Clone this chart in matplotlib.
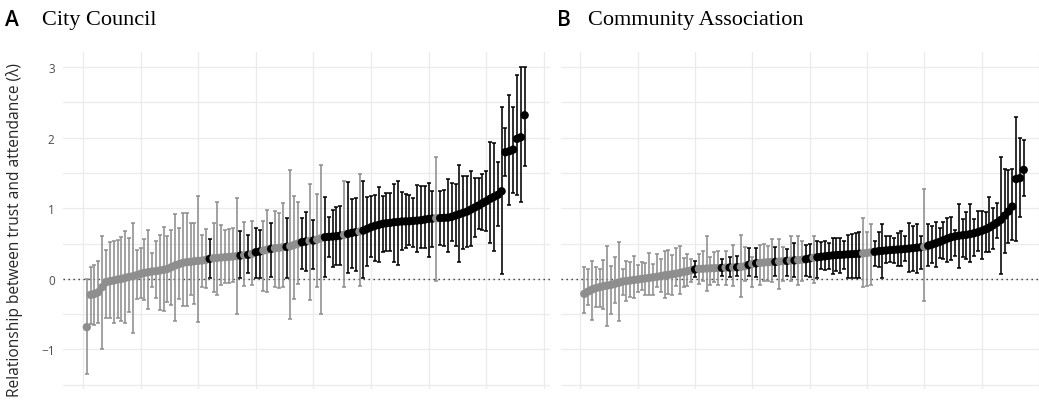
import numpy as np
import matplotlib
matplotlib.use("Agg")
import matplotlib.pyplot as plt

# City Council: sorted estimates with 95% intervals
council_est = [
    -0.684, -0.226, -0.212, -0.188, -0.117, -0.047, -0.033, -0.023, -0.009, 0.000,
    0.015, 0.029, 0.038, 0.053, 0.071, 0.086, 0.095, 0.105, 0.109, 0.119,
    0.128, 0.142, 0.166, 0.190, 0.208, 0.227, 0.237, 0.241, 0.251, 0.256,
    0.260, 0.270, 0.284, 0.293, 0.298, 0.303, 0.307, 0.312, 0.317, 0.322,
    0.331, 0.336, 0.341, 0.355, 0.378, 0.388, 0.402, 0.416, 0.426, 0.435,
    0.440, 0.449, 0.454, 0.463, 0.482, 0.501, 0.520, 0.529, 0.539, 0.544,
    0.558, 0.577, 0.591, 0.596, 0.600, 0.605, 0.614, 0.624, 0.638, 0.652,
    0.662, 0.671, 0.685, 0.709, 0.732, 0.751, 0.765, 0.780, 0.789, 0.794,
    0.803, 0.808, 0.813, 0.815, 0.817, 0.822, 0.827, 0.831, 0.841, 0.850,
    0.855, 0.860, 0.862, 0.865, 0.868, 0.879, 0.898, 0.917, 0.936, 0.954,
    0.983, 1.011, 1.039, 1.072, 1.101, 1.134, 1.162, 1.190, 1.242, 1.795,
    1.809, 1.832, 1.984, 2.007, 2.319,
]
council_lo = [
    -1.345, -0.637, -0.651, -0.618, -0.991, -0.557, -0.557, -0.618, -0.557, -0.590,
    -0.618, -0.472, -0.769, -0.287, -0.273, -0.302, -0.424, -0.117, -0.269, -0.439,
    -0.448, -0.330, -0.368, -0.599, -0.283, -0.377, -0.377, -0.235, -0.354, -0.613,
    -0.117, -0.132, 0.010, -0.188, -0.235, -0.084, -0.061, -0.061, -0.037, -0.495,
    0.010, -0.094, 0.081, -0.080, 0.010, 0.010, -0.165, -0.188, 0.024, -0.117,
    -0.122, -0.117, 0.010, -0.566, -0.283, -0.070, 0.142, 0.109, -0.292, 0.142,
    -0.117, -0.495, 0.024, 0.307, 0.166, 0.199, 0.199, -0.117, 0.081, 0.152,
    0.109, -0.094, 0.010, 0.189, 0.307, 0.260, 0.237, 0.378, 0.397, 0.397,
    0.237, 0.199, 0.411, 0.444, 0.482, 0.449, 0.378, 0.435, 0.435, 0.307,
    0.449, -0.023, 0.487, 0.463, 0.378, 0.534, 0.473, 0.237, 0.426, 0.449,
    0.473, 0.591, 0.709, 0.690, 0.685, 0.511, 0.402, 0.756, 0.071, 1.464,
    1.053, 1.219, 1.190, 1.090, 1.596,
]
council_hi = [
    0.000, 0.175, 0.199, 0.260, 0.614, 0.411, 0.520, 0.539, 0.548, 0.596,
    0.676, 0.581, 0.798, 0.407, 0.435, 0.562, 0.690, 0.364, 0.534, 0.629,
    0.742, 0.605, 0.699, 0.921, 0.728, 0.935, 0.935, 0.794, 0.789, 1.171,
    0.624, 0.704, 0.567, 0.798, 1.087, 0.770, 0.690, 0.704, 0.718, 1.143,
    0.676, 0.803, 0.624, 0.827, 0.718, 0.695, 0.827, 0.983, 0.789, 0.969,
    0.935, 1.082, 0.865, 1.544, 1.171, 1.087, 0.860, 0.954, 1.341, 0.836,
    1.209, 1.615, 1.167, 0.884, 0.978, 1.025, 1.035, 1.384, 1.370, 1.129,
    1.153, 1.493, 1.384, 1.157, 1.181, 1.195, 1.308, 1.181, 1.214, 1.214,
    1.351, 1.384, 1.228, 1.209, 1.195, 1.143, 1.337, 1.318, 1.318, 1.360,
    1.252, 1.729, 1.252, 1.261, 1.417, 1.360, 1.346, 1.615, 1.455, 1.464,
    1.535, 1.431, 1.426, 1.483, 1.526, 1.946, 1.932, 1.653, 2.432, 2.135,
    2.607, 2.432, 2.890, 2.999, 3.008,
]

# Community Association
assoc_est = [
    -0.212, -0.179, -0.151, -0.132, -0.117, -0.103, -0.094, -0.084, -0.070, -0.056,
    -0.037, -0.030, -0.022, -0.015, -0.008, 0.000, 0.007, 0.015, 0.022, 0.030,
    0.040, 0.050, 0.058, 0.066, 0.074, 0.085, 0.097, 0.110, 0.122, 0.135,
    0.142, 0.144, 0.147, 0.150, 0.152, 0.155, 0.157, 0.160, 0.161, 0.163,
    0.166, 0.170, 0.180, 0.199, 0.213, 0.222, 0.227, 0.232, 0.237, 0.239,
    0.241, 0.246, 0.251, 0.256, 0.260, 0.262, 0.267, 0.272, 0.279, 0.290,
    0.300, 0.307, 0.314, 0.320, 0.327, 0.333, 0.338, 0.341, 0.344, 0.348,
    0.351, 0.354, 0.358, 0.362, 0.368, 0.376, 0.384, 0.392, 0.398, 0.403,
    0.408, 0.412, 0.416, 0.420, 0.425, 0.430, 0.436, 0.442, 0.448, 0.455,
    0.470, 0.487, 0.505, 0.525, 0.548, 0.570, 0.590, 0.602, 0.612, 0.618,
    0.625, 0.635, 0.647, 0.662, 0.680, 0.702, 0.728, 0.760, 0.795, 0.835,
    0.895, 0.955, 1.025, 1.415, 1.428, 1.545,
]
assoc_lo = [
    -0.481, -0.363, -0.580, -0.401, -0.401, -0.424, -0.670, -0.495, -0.344, -0.594,
    -0.235, -0.316, -0.259, -0.264, -0.188, -0.160, -0.235, -0.226, -0.235, -0.113,
    -0.188, -0.269, -0.212, -0.235, -0.094, -0.212, -0.117, -0.094, -0.047, 0.024,
    -0.070, -0.023, -0.165, -0.084, -0.047, -0.084, 0.038, -0.084, 0.024, -0.094,
    0.038, -0.259, -0.023, 0.038, -0.117, 0.034, -0.084, -0.023, -0.023, -0.047,
    0.038, -0.141, -0.023, 0.048, -0.023, 0.034, -0.084, -0.023, 0.038, 0.034,
    -0.056, 0.010, 0.142, 0.128, 0.142, 0.067, 0.109, 0.081, 0.142, 0.010,
    0.010, 0.010, 0.010, -0.108, -0.094, -0.080, 0.189, 0.166, 0.010, 0.227,
    0.237, 0.227, 0.189, 0.189, 0.260, 0.095, 0.109, 0.081, 0.142, -0.320,
    0.180, 0.227, 0.166, 0.293, 0.284, 0.246, 0.270, 0.331, 0.156, 0.307,
    0.284, 0.237, 0.331, 0.402, 0.284, 0.378, 0.378, 0.425, 0.581, 0.071,
    0.364, 0.510, 0.548, 0.544, 0.874, 1.181,
]
assoc_hi = [
    0.166, 0.142, 0.260, 0.166, 0.142, 0.270, 0.473, 0.189, 0.317, 0.520,
    0.142, 0.260, 0.246, 0.322, 0.204, 0.237, 0.227, 0.364, 0.213, 0.355,
    0.284, 0.402, 0.416, 0.341, 0.444, 0.473, 0.293, 0.355, 0.284, 0.260,
    0.355, 0.397, 0.614, 0.307, 0.378, 0.397, 0.284, 0.392, 0.307, 0.487,
    0.331, 0.629, 0.449, 0.435, 0.307, 0.435, 0.487, 0.492, 0.473, 0.567,
    0.459, 0.567, 0.449, 0.421, 0.614, 0.506, 0.614, 0.544, 0.487, 0.496,
    0.614, 0.544, 0.520, 0.534, 0.510, 0.586, 0.586, 0.577, 0.544, 0.624,
    0.643, 0.652, 0.662, 0.869, 0.662, 0.775, 0.544, 0.662, 0.775, 0.614,
    0.605, 0.581, 0.652, 0.680, 0.614, 0.789, 0.756, 0.780, 0.614, 1.275,
    0.775, 0.756, 0.803, 0.718, 0.813, 0.860, 0.874, 0.695, 1.063, 0.850,
    0.945, 1.063, 0.850, 0.959, 0.968, 0.945, 1.157, 1.006, 1.077, 1.724,
    1.559, 1.544, 1.559, 2.290, 2.002, 1.969,
]

GRAY = "#8e8e8e"
GRID = "#ebebeb"
SANS = ["Open Sans", "DejaVu Sans"]
SERIF = ["Liberation Serif", "DejaVu Serif"]


def draw_panel(ax, est, lo, hi, xlim):
    est = np.asarray(est)
    lo = np.asarray(lo)
    hi = np.asarray(hi)
    rank = np.arange(1, len(est) + 1)
    # intervals that stay above zero are drawn in black
    sig = lo > 0

    ax.set_xlim(*xlim)
    ax.set_ylim(-1.56, 3.215)
    ax.set_xticks(np.arange(0, 121, 15))
    ax.set_yticks(np.arange(-1.5, 3.01, 0.5))
    ax.grid(True, color=GRID, linewidth=0.9, zorder=0)
    ax.set_axisbelow(True)
    for s in ax.spines.values():
        s.set_visible(False)
    ax.tick_params(which="both", length=0, labelbottom=False, labelleft=False)
    ax.axhline(0, color="#333333", linewidth=1.0, linestyle=(0, (1, 2.6)), zorder=1)

    for mask, col in [(~sig, GRAY), (sig, "black")]:
        ax.errorbar(rank[mask], est[mask],
                    yerr=[est[mask] - lo[mask], hi[mask] - est[mask]],
                    fmt="none", ecolor=col, elinewidth=1.15, capsize=1.6,
                    capthick=1.1, zorder=2)
    ax.scatter(rank, est, s=36, c=np.where(sig, "black", GRAY),
               linewidths=0, zorder=3)


fig = plt.figure(figsize=(10.39, 4.06), dpi=100)
W, H = 1039, 406

ax_a = fig.add_axes([63 / W, 16 / H, 487 / W, 337 / H])
draw_panel(ax_a, council_est, council_lo, council_hi, (-5.2, 121.6))
ax_a.set_yticks([-1, 0, 1, 2, 3])
ax_a.set_yticklabels(["\u22121", "0", "1", "2", "3"], fontfamily=SANS)
ax_a.set_yticks(np.arange(-1.5, 3.01, 0.5), minor=True)
ax_a.grid(True, which="minor", color=GRID, linewidth=0.9)
ax_a.tick_params(which="both", length=0)
ax_a.tick_params(labelleft=True, pad=6, labelsize=8.5, labelcolor="#4d4d4d")
ax_a.set_ylabel("Relationship between trust and attendance (\u03bb)",
                fontsize=11.2, fontfamily=SANS, color="#262626")
ax_a.yaxis.set_label_coords(-0.083, 0.475)

ax_b = fig.add_axes([561 / W, 16 / H, (W - 561) / W, 337 / H])
draw_panel(ax_b, assoc_est, assoc_lo, assoc_hi, (-5.1, 119.4))

fig.text(5 / W, 1 - 21 / H, "A", fontsize=15, fontfamily=SANS, fontweight=600, va="center")
fig.text(42 / W, 1 - 21 / H, "City Council", fontsize=16, fontfamily=SERIF, va="center")
fig.text(557 / W, 1 - 21 / H, "B", fontsize=15, fontfamily=SANS, fontweight=600, va="center")
fig.text(588 / W, 1 - 21 / H, "Community Association", fontsize=16, fontfamily=SERIF, va="center")

fig.savefig("out.png", dpi=100)
